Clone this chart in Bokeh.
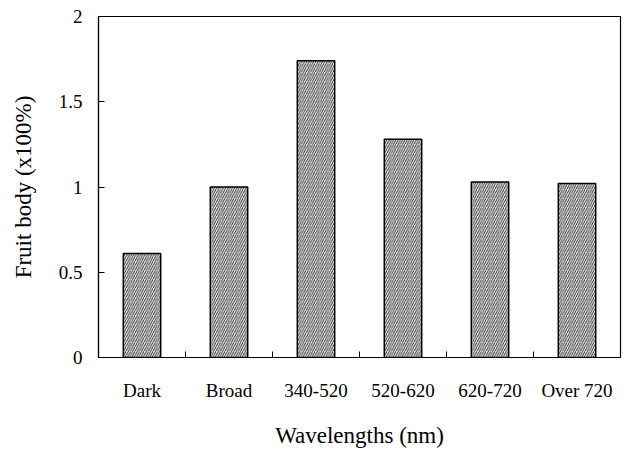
from bokeh.plotting import figure
from bokeh.models import FactorRange, Range1d, LinearAxis, FixedTicker, ColumnDataSource
from bokeh.embed import file_html
from bokeh.resources import INLINE

categories = ["Dark", "Broad", "340-520", "520-620", "620-720", "Over 720"]
values = [0.61, 1.0, 1.74, 1.28, 1.03, 1.02]
y_ticks = [0, 0.5, 1, 1.5, 2]
y_tick_labels = ["0", "0.5", "1", "1.5", "2"]

FONT = "Liberation Serif"

source = ColumnDataSource(data=dict(cat=categories, val=values))

p = figure(width=622, height=450, output_backend="svg", toolbar_location=None,
           x_range=FactorRange(*categories, range_padding=0, factor_padding=0),
           y_range=Range1d(0, 2), x_axis_type=None, y_axis_type=None,
           min_border_left=98, min_border_top=16, min_border_right=2, min_border_bottom=93)
p.xgrid.visible = False
p.ygrid.visible = False
p.outline_line_color = "black"
p.outline_line_width = 1.2
p.background_fill_color = "white"
p.border_fill_color = "white"

p.vbar(x="cat", top="val", width=0.43, source=source,
       fill_color="#e6e6e6", line_color="black", line_width=1.5,
       hatch_pattern="/", hatch_color="#222222", hatch_scale=4.5, hatch_weight=0.9)

n = len(categories)
xaxis = LinearAxis(ticker=FixedTicker(ticks=[i + 0.5 for i in range(n)],
                                      minor_ticks=[float(i) for i in range(1, n)]))
xaxis.major_label_overrides = {i + 0.5: c for i, c in enumerate(categories)}
xaxis.major_tick_line_color = None
xaxis.minor_tick_in = 6
xaxis.minor_tick_out = 0
xaxis.minor_tick_line_color = "black"
xaxis.axis_line_color = "black"
xaxis.axis_line_width = 1.2
xaxis.major_label_text_font = FONT
xaxis.major_label_text_font_size = "19px"
xaxis.major_label_text_color = "black"
xaxis.major_label_standoff = 16
xaxis.axis_label = "Wavelengths (nm)"
xaxis.axis_label_text_font = FONT
xaxis.axis_label_text_font_style = "normal"
xaxis.axis_label_text_font_size = "23px"
xaxis.axis_label_text_color = "black"
xaxis.axis_label_standoff = 19
p.add_layout(xaxis, "below")

yaxis = LinearAxis(ticker=FixedTicker(ticks=y_ticks, minor_ticks=[]))
yaxis.major_label_overrides = {t: l for t, l in zip(y_ticks, y_tick_labels)}
yaxis.major_tick_in = 6
yaxis.major_tick_out = 0
yaxis.major_tick_line_color = "black"
yaxis.axis_line_color = "black"
yaxis.axis_line_width = 1.2
yaxis.major_label_text_font = FONT
yaxis.major_label_text_font_size = "19px"
yaxis.major_label_text_color = "black"
yaxis.major_label_standoff = 16
yaxis.axis_label = "Fruit body (x100%)"
yaxis.axis_label_text_font = FONT
yaxis.axis_label_text_font_style = "normal"
yaxis.axis_label_text_font_size = "23px"
yaxis.axis_label_text_color = "black"
yaxis.axis_label_standoff = 20
p.add_layout(yaxis, "left")

open("out.html", "w").write(file_html(p, INLINE))
